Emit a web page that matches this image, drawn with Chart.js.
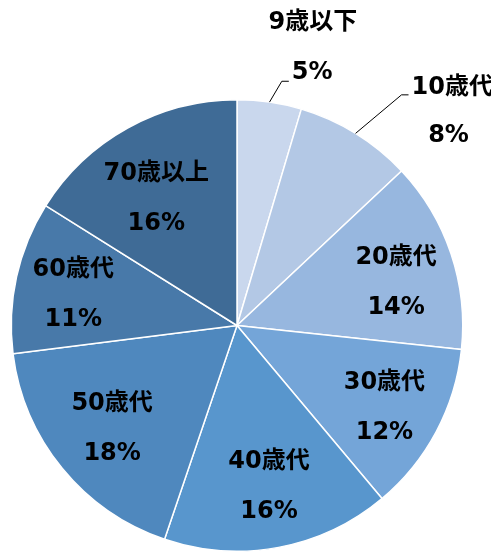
<!DOCTYPE html>
<html>
<head>
<meta charset="utf-8">
<script src="https://cdn.jsdelivr.net/npm/chart.js@4/dist/chart.umd.min.js"></script>
<style>
  html, body { margin: 0; padding: 0; background: #fff; }
  #wrap { width: 491px; height: 552px; }
</style>
</head>
<body>
<div id="wrap"><canvas id="myChart" width="491" height="552"></canvas></div>
<script>
// age groups and their shares (slice sizes, labels as printed)
const categories = ["9歳以下", "10歳代", "20歳代", "30歳代", "40歳代", "50歳代", "60歳代", "70歳以上"];
const shares = [4.6, 8.4, 13.7, 12.2, 16.3, 17.8, 10.9, 16.1];
const shareLabels = ["5%", "8%", "14%", "12%", "16%", "18%", "11%", "16%"];
const colors = ["#c9d7ed", "#b3c8e5", "#97b7df", "#74a5d8", "#5896cd", "#4f88be", "#4879a9", "#3f6b96"];

const FONT = "bold 24px 'DejaVu Sans', 'Noto Sans CJK JP', sans-serif";

// outside labels for the two small slices (with leader lines)
const outside = {
  0: { elbowR: 1.10, elbowDeg: 10.4, tail: 7,
       name: { dx: 24, dy: -58, align: "center" }, pct: { dx: 3, dy: -8, align: "left" } },
  1: { elbowR: 1.255, elbowDeg: 35.5, tail: 7,
       name: { dx: 3, dy: -7, align: "left" }, pct: { dx: 40, dy: 41, align: "center" } },
};
// small hand nudges for inside labels (px), like the original's label placement
const nudge = [[0, 0], [0, 0], [5, 6], [4, 3], [2, -1], [1, -3], [-5, 1], [-2, 12]];

const toRad = (deg) => (deg * Math.PI) / 180 - Math.PI / 2;

const labelPlugin = {
  id: "sliceLabels",
  afterDatasetsDraw(chart) {
    const ctx = chart.ctx;
    const meta = chart.getDatasetMeta(0);
    ctx.save();
    ctx.font = FONT;
    ctx.fillStyle = "#000";
    ctx.textBaseline = "middle";
    meta.data.forEach((arc, i) => {
      const { x, y, startAngle, endAngle, outerRadius } = arc.getProps(["x", "y", "startAngle", "endAngle", "outerRadius"], true);
      const mid = (startAngle + endAngle) / 2;
      const o = outside[i];
      if (o) {
        const sx = x + outerRadius * Math.cos(mid);
        const sy = y + outerRadius * Math.sin(mid);
        const ea = toRad(o.elbowDeg);
        const ex = x + outerRadius * o.elbowR * Math.cos(ea);
        const ey = y + outerRadius * o.elbowR * Math.sin(ea);
        ctx.strokeStyle = "#000";
        ctx.lineWidth = 1;
        ctx.beginPath();
        ctx.moveTo(sx, sy);
        ctx.lineTo(ex, ey);
        ctx.lineTo(ex + o.tail, ey);
        ctx.stroke();
        const tx = ex + o.tail;
        ctx.textAlign = o.name.align;
        ctx.fillText(categories[i], tx + o.name.dx, ey + o.name.dy);
        ctx.textAlign = o.pct.align;
        ctx.fillText(shareLabels[i], tx + o.pct.dx, ey + o.pct.dy);
      } else {
        const r = outerRadius * 0.72;
        const cx = x + r * Math.cos(mid) + nudge[i][0];
        const cy = y + r * Math.sin(mid) + 3 + nudge[i][1];
        ctx.textAlign = "center";
        ctx.fillText(categories[i], cx, cy - 25);
        ctx.fillText(shareLabels[i], cx, cy + 25);
      }
    });
    ctx.restore();
  },
};

new Chart(document.getElementById("myChart"), {
  type: "pie",
  data: {
    labels: categories,
    datasets: [{
      data: shares,
      backgroundColor: colors,
      borderColor: "#ffffff",
      borderWidth: 1.5,
    }],
  },
  options: {
    responsive: false,
    animation: false,
    layout: { padding: { left: 10, right: 27, top: 99, bottom: 0 } },
    plugins: {
      legend: { display: false },
      tooltip: { enabled: false },
    },
  },
  plugins: [labelPlugin],
});
</script>
</body>
</html>
